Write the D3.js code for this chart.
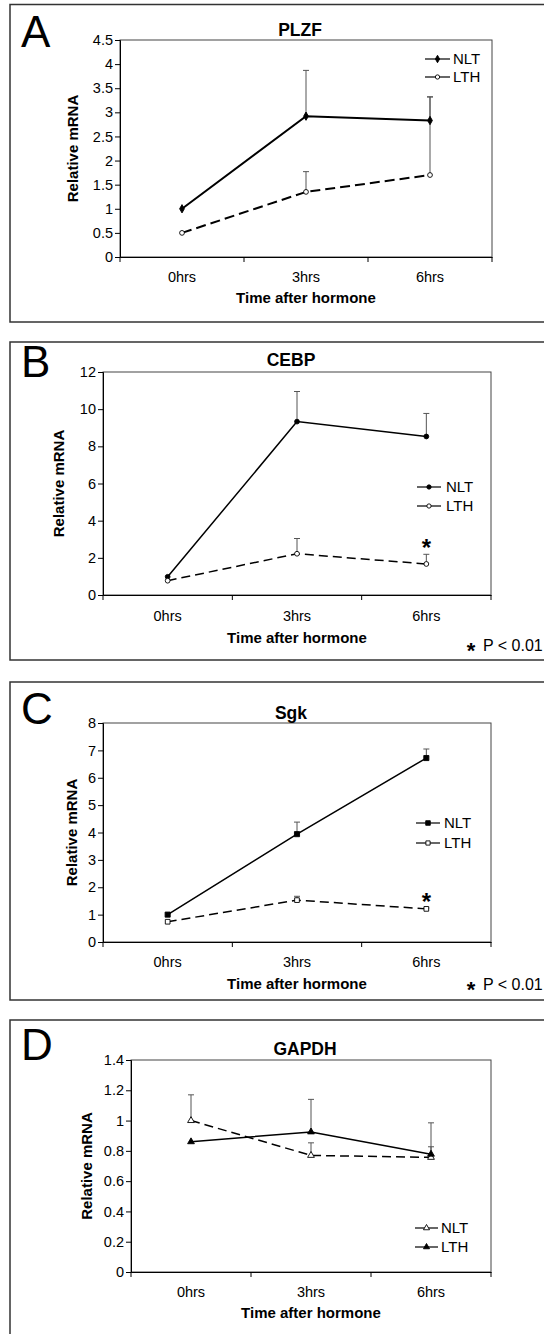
<!DOCTYPE html>
<html>
<head>
<meta charset="utf-8">
<script src="https://cdn.jsdelivr.net/npm/d3@7"></script>
<style>
  body { margin: 0; background: #fff; }
  svg { display: block; font-family: "Liberation Sans", Arial, sans-serif; }
</style>
</head>
<body>
<svg width="544" height="1334"></svg>
<script>
// categories shared by all four panels
const categories = ["0hrs", "3hrs", "6hrs"];

// A - PLZF
const plzfTicks = [0, 0.5, 1, 1.5, 2, 2.5, 3, 3.5, 4, 4.5];
const plzfNLT = [1.0, 2.92, 2.83];
const plzfNLTErr = [0, 0.95, 0.49];
const plzfLTH = [0.5, 1.35, 1.7];
const plzfLTHErr = [0, 0.42, 1.62];

// B - CEBP
const cebpTicks = [0, 2, 4, 6, 8, 10, 12];
const cebpNLT = [0.98, 9.33, 8.53];
const cebpNLTErr = [0, 1.62, 1.24];
const cebpLTH = [0.77, 2.22, 1.67];
const cebpLTHErr = [0, 0.82, 0.52];

// C - Sgk
const sgkTicks = [0, 1, 2, 3, 4, 5, 6, 7, 8];
const sgkNLT = [1.0, 3.94, 6.72];
const sgkNLTErr = [0, 0.44, 0.33];
const sgkLTH = [0.74, 1.53, 1.21];
const sgkLTHErr = [0, 0.14, 0.03];

// D - GAPDH
const gapdhTicks = [0, 0.2, 0.4, 0.6, 0.8, 1, 1.2, 1.4];
const gapdhNLT = [1.0, 0.77, 0.757];
const gapdhNLTErr = [0.17, 0.083, 0.07];
const gapdhLTH = [0.86, 0.925, 0.778];
const gapdhLTHErr = [0, 0.215, 0.207];

const svg = d3.select("svg");
const width = +svg.attr("width");

const panels = [
  {
    letter: "A", title: "PLZF", ticks: plzfTicks,
    series: [
      { name: "NLT", values: plzfNLT, err: plzfNLTErr, symbol: d3.symbolDiamond, size: 20, filled: true, dashed: false },
      { name: "LTH", values: plzfLTH, err: plzfLTHErr, symbol: d3.symbolCircle, size: 18, filled: false, dashed: true }
    ],
    box: [10, 4.5, 322], plot: [120, 40, 492, 257], titleY: 30, ylabX: 73,
    xlabY: 277, xtitleY: 298, letterY: 47,
    legend: { x1: 425, x2: 450, tx: 453, y: [59, 77] },
    star: null, note: null, lineW: 2, dash: "10,5"
  },
  {
    letter: "B", title: "CEBP", ticks: cebpTicks,
    series: [
      { name: "NLT", values: cebpNLT, err: cebpNLTErr, symbol: d3.symbolCircle, size: 18, filled: true, dashed: false },
      { name: "LTH", values: cebpLTH, err: cebpLTHErr, symbol: d3.symbolCircle, size: 18, filled: false, dashed: true }
    ],
    box: [10, 342, 660], plot: [103, 372, 491, 595], titleY: 360, ylabX: 59,
    xlabY: 616, xtitleY: 638, letterY: 377,
    legend: { x1: 417, x2: 441, tx: 446, y: [487, 506] },
    star: 2, note: 651, lineW: 1.5, dash: "9,5"
  },
  {
    letter: "C", title: "Sgk", ticks: sgkTicks,
    series: [
      { name: "NLT", values: sgkNLT, err: sgkNLTErr, symbol: d3.symbolSquare, size: 26, filled: true, dashed: false },
      { name: "LTH", values: sgkLTH, err: sgkLTHErr, symbol: d3.symbolSquare, size: 22, filled: false, dashed: true }
    ],
    box: [10, 682, 1000], plot: [103, 723, 491, 942], titleY: 713, ylabX: 72,
    xlabY: 962, xtitleY: 984, letterY: 724,
    legend: { x1: 416, x2: 440, tx: 444, y: [823, 843] },
    star: 2, note: 990, lineW: 1.5, dash: "9,5"
  },
  {
    letter: "D", title: "GAPDH", ticks: gapdhTicks,
    series: [
      { name: "NLT", values: gapdhNLT, err: gapdhNLTErr, symbol: d3.symbolTriangle, size: 20, filled: false, dashed: true },
      { name: "LTH", values: gapdhLTH, err: gapdhLTHErr, symbol: d3.symbolTriangle, size: 20, filled: true, dashed: false }
    ],
    box: [10, 1020, 1400], plot: [131, 1060, 491, 1272], titleY: 1049, ylabX: 87,
    xlabY: 1292, xtitleY: 1313, letterY: 1060,
    legend: { x1: 415, x2: 438, tx: 441, y: [1228, 1247] },
    star: null, note: null, lineW: 1.5, dash: "9,5"
  }
];

panels.forEach(p => {
  const [left, top, right, bottom] = p.plot;
  const g = svg.append("g");

  // outer panel frame (right side runs off the page)
  g.append("rect")
    .attr("x", p.box[0]).attr("y", p.box[1])
    .attr("width", width + 20).attr("height", p.box[2] - p.box[1])
    .attr("fill", "none").attr("stroke", "#333").attr("stroke-width", 1.5);

  g.append("text")
    .attr("x", 21).attr("y", p.letterY)
    .style("font-size", "44px")
    .text(p.letter);

  const x = d3.scaleBand().domain(categories).range([left, right]);
  const y = d3.scaleLinear().domain([0, d3.max(p.ticks)]).range([bottom, top]);
  const cx = d => x(d) + x.bandwidth() / 2;

  // plot area border
  g.append("rect")
    .attr("x", left).attr("y", top)
    .attr("width", right - left).attr("height", bottom - top)
    .attr("fill", "none").attr("stroke", "#444").attr("stroke-width", 1);

  // Axes
  const yAxis = g.append("g")
    .attr("transform", `translate(${left},0)`)
    .call(d3.axisLeft(y).tickValues(p.ticks).tickSize(5).tickPadding(2).tickFormat(d => String(d)));
  yAxis.select(".domain").attr("stroke", "#000");
  yAxis.selectAll("text").style("font-size", "14.5px").attr("fill", "#000");

  const xAxis = g.append("g")
    .attr("transform", `translate(0,${bottom})`)
    .call(d3.axisBottom(x).tickSize(0).tickPadding(0));
  xAxis.select(".domain").attr("stroke", "#000");
  xAxis.selectAll("text")
    .attr("y", p.xlabY - bottom).attr("dy", "0.35em")
    .style("font-size", "14.5px").attr("fill", "#000");
  xAxis.selectAll(".boundary")
    .data(categories.map(c => x(c)).concat([right]))
    .enter().append("line")
    .attr("x1", d => d).attr("x2", d => d)
    .attr("y1", 0).attr("y2", 5)
    .attr("stroke", "#000");

  g.append("text")
    .attr("x", (left + right) / 2).attr("y", p.xtitleY).attr("dy", "0.35em")
    .attr("text-anchor", "middle")
    .style("font-size", "15px").style("font-weight", "bold")
    .text("Time after hormone");

  g.append("text")
    .attr("transform", `translate(${p.ylabX},${(top + bottom) / 2}) rotate(-90)`)
    .attr("dy", "0.35em")
    .attr("text-anchor", "middle")
    .style("font-size", "15px").style("font-weight", "bold")
    .text("Relative mRNA");

  g.append("text")
    .attr("x", (left + right) / 2 - 6).attr("y", p.titleY).attr("dy", "0.35em")
    .attr("text-anchor", "middle")
    .style("font-size", "17.5px").style("font-weight", "bold")
    .text(p.title);

  // error bars (upper only)
  p.series.forEach(s => {
    const eb = g.append("g").attr("stroke", "#555").attr("stroke-width", 1);
    categories.forEach((c, i) => {
      if (!s.err[i]) return;
      const y0 = y(s.values[i]), y1 = y(s.values[i] + s.err[i]);
      eb.append("line").attr("x1", cx(c)).attr("x2", cx(c)).attr("y1", y0).attr("y2", y1);
      eb.append("line").attr("x1", cx(c) - 3).attr("x2", cx(c) + 3).attr("y1", y1).attr("y2", y1);
    });
  });

  // lines + markers
  const line = d3.line().x((d, i) => cx(categories[i])).y(d => y(d));
  p.series.forEach(s => {
    g.append("path")
      .attr("d", line(s.values))
      .attr("fill", "none").attr("stroke", "#000")
      .attr("stroke-width", p.lineW)
      .attr("stroke-dasharray", s.dashed ? p.dash : null);

    g.selectAll(null)
      .data(s.values)
      .enter().append("path")
      .attr("transform", (d, i) => `translate(${cx(categories[i])},${y(d)})`)
      .attr("d", d3.symbol().type(s.symbol).size(s.size))
      .attr("fill", s.filled ? "#000" : "#fff")
      .attr("stroke", "#000").attr("stroke-width", 0.9);
  });

  // Legend
  const lg = g.append("g");
  p.series.forEach((s, i) => {
    const ly = p.legend.y[i];
    lg.append("line")
      .attr("x1", p.legend.x1).attr("x2", p.legend.x2)
      .attr("y1", ly).attr("y2", ly)
      .attr("stroke", "#000").attr("stroke-width", 1.2);
    lg.append("path")
      .attr("transform", `translate(${(p.legend.x1 + p.legend.x2) / 2},${ly})`)
      .attr("d", d3.symbol().type(s.symbol).size(s.size * 0.8))
      .attr("fill", s.filled ? "#000" : "#fff")
      .attr("stroke", "#000").attr("stroke-width", 0.9);
    lg.append("text")
      .attr("x", p.legend.tx).attr("y", ly).attr("dy", "0.35em")
      .style("font-size", "15px")
      .text(s.name);
  });

  // significance marks
  if (p.star !== null) {
    const s = p.series[1];
    const i = p.star;
    g.append("text")
      .attr("x", cx(categories[i])).attr("y", y(s.values[i] + s.err[i]) + 2)
      .attr("text-anchor", "middle")
      .style("font-size", "24px").style("font-weight", "bold")
      .text("*");
  }
  if (p.note !== null) {
    g.append("text")
      .attr("x", 471).attr("y", p.note + 7)
      .attr("text-anchor", "middle")
      .style("font-size", "22px").style("font-weight", "bold")
      .text("*");
    g.append("text")
      .attr("x", 483).attr("y", p.note)
      .style("font-size", "16px")
      .text("P < 0.01");
  }
});
</script>
</body>
</html>
